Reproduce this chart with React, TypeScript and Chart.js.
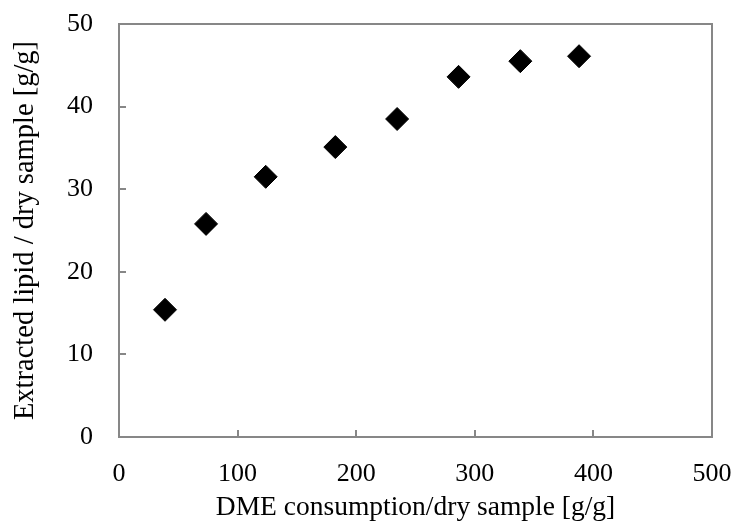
import React, { useEffect, useRef } from "react";
import { Chart, registerables } from "chart.js";

Chart.register(...registerables);

const dmeConsumption = [38.8, 73.4, 123.7, 182.4, 234.5, 286.3, 338.4, 387.9];
const extractedLipid = [15.4, 25.8, 31.5, 35.1, 38.5, 43.6, 45.5, 46.1];
const xTicks = [0, 100, 200, 300, 400, 500];
const yTicks = [0, 10, 20, 30, 40, 50];

const FONT = "'Liberation Serif', 'Times New Roman', serif";
const AXIS_COLOR = "#878787";

const innerTicks = {
  id: "innerTicks",
  afterDatasetsDraw(chart: any) {
    const { ctx, chartArea, scales } = chart;
    ctx.save();
    ctx.strokeStyle = AXIS_COLOR;
    ctx.lineWidth = 2;
    ctx.beginPath();
    for (const v of xTicks) {
      const px = Math.round(scales.x.getPixelForValue(v));
      ctx.moveTo(px, chartArea.bottom);
      ctx.lineTo(px, chartArea.bottom - 7);
    }
    for (const v of yTicks) {
      const py = Math.round(scales.y.getPixelForValue(v));
      ctx.moveTo(chartArea.left, py);
      ctx.lineTo(chartArea.left + 7, py);
    }
    ctx.stroke();
    ctx.strokeRect(
      chartArea.left,
      chartArea.top,
      chartArea.right - chartArea.left,
      chartArea.bottom - chartArea.top
    );
    ctx.restore();
  },
};

export default function App() {
  const ref = useRef<HTMLCanvasElement>(null);
  useEffect(() => {
    document.body.style.margin = "0";
    const chart = new Chart(ref.current!, {
      type: "scatter",
      data: {
        datasets: [
          {
            data: dmeConsumption.map((x, i) => ({ x, y: extractedLipid[i] })),
            pointStyle: "rectRot",
            pointRadius: 11.5,
            pointHoverRadius: 11.5,
            backgroundColor: "#000000",
            borderColor: "#000000",
            borderWidth: 1,
          },
        ],
      },
      options: {
        animation: false,
        responsive: false,
        layout: { padding: { top: 24, right: 23, left: 0, bottom: 0 } },
        plugins: { legend: { display: false }, tooltip: { enabled: false } },
        scales: {
          x: {
            type: "linear",
            min: 0,
            max: 500,
            afterBuildTicks: (s: any) => {
              s.ticks = xTicks.map((v) => ({ value: v }));
            },
            afterFit: (s: any) => {
              s.height = 94;
              s.paddingLeft = 0;
              s.paddingRight = 0;
            },
            grid: { display: false, drawTicks: false },
            border: { display: false },
            ticks: {
              color: "#000",
              padding: 22,
              font: { family: FONT, size: 26 },
              maxRotation: 0,
            },
            title: {
              display: true,
              text: "DME consumption/dry sample [g/g]",
              color: "#000",
              font: { family: FONT, size: 27.5 },
              padding: { top: 0, bottom: 7 },
            },
          },
          y: {
            type: "linear",
            min: 0,
            max: 50,
            afterBuildTicks: (s: any) => {
              s.ticks = yTicks.map((v) => ({ value: v }));
            },
            afterFit: (s: any) => {
              s.width = 119;
              s.paddingTop = 0;
              s.paddingBottom = 0;
            },
            grid: { display: false, drawTicks: false },
            border: { display: false },
            ticks: {
              color: "#000",
              padding: 26,
              font: { family: FONT, size: 26 },
            },
            title: {
              display: true,
              text: "Extracted lipid / dry sample [g/g]",
              color: "#000",
              font: { family: FONT, size: 28.5 },
              padding: { top: 8, bottom: 0 },
            },
          },
        },
      },
      plugins: [innerTicks],
    });
    return () => chart.destroy();
  }, []);
  return (
    <div style={{ position: "fixed", left: 0, top: 0, width: 735, height: 531, background: "#fff" }}>
      <canvas ref={ref} width={735} height={531} style={{ width: 735, height: 531 }} />
    </div>
  );
}
